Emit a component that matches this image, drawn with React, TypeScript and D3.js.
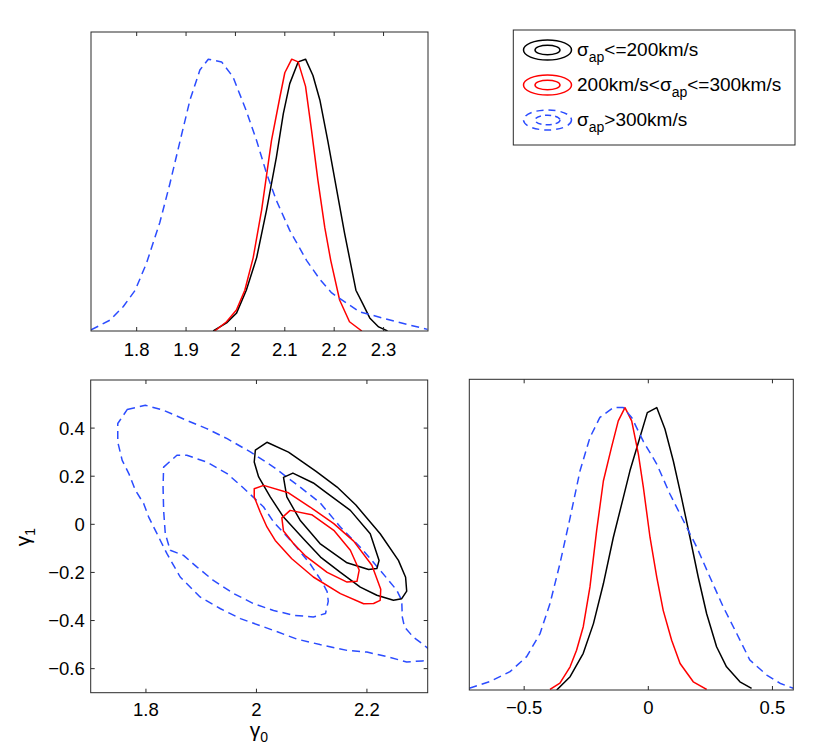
import * as React from 'react';
import * as d3 from 'd3';

type Pt = [number, number];

// marginal of gamma0 (top-left panel), peak normalised to 1
const g0Black: Pt[] = [
  [1.955, 0.0], [1.982, 0.03], [2.002, 0.065], [2.022, 0.15], [2.043, 0.27], [2.063, 0.445],
  [2.083, 0.64], [2.097, 0.80], [2.110, 0.91], [2.127, 0.99], [2.142, 1.0], [2.157, 0.94],
  [2.171, 0.85], [2.187, 0.70], [2.204, 0.53], [2.221, 0.36], [2.232, 0.26], [2.244, 0.15],
  [2.258, 0.10], [2.272, 0.048], [2.290, 0.015], [2.308, 0.0],
];
const g0Red: Pt[] = [
  [1.958, 0.0], [1.982, 0.034], [2.002, 0.077], [2.019, 0.15], [2.036, 0.27], [2.053, 0.445],
  [2.073, 0.70], [2.090, 0.86], [2.100, 0.95], [2.114, 1.0], [2.127, 0.99], [2.142, 0.90],
  [2.154, 0.74], [2.167, 0.555], [2.181, 0.38], [2.193, 0.26], [2.211, 0.114], [2.231, 0.034],
  [2.256, 0.0],
];
const g0Blue: Pt[] = [
  [1.7077, 0.004], [1.746, 0.04], [1.773, 0.09], [1.797, 0.15], [1.820, 0.25], [1.847, 0.40],
  [1.867, 0.54], [1.888, 0.70], [1.908, 0.85], [1.928, 0.96], [1.945, 1.0], [1.972, 0.99],
  [1.995, 0.935], [2.022, 0.81], [2.043, 0.70], [2.063, 0.58], [2.083, 0.48], [2.110, 0.37],
  [2.144, 0.26], [2.171, 0.19], [2.195, 0.14], [2.251, 0.071], [2.326, 0.034], [2.389, 0.006],
];

// marginal of gamma1 (bottom-right panel)
const g1Black: Pt[] = [
  [-0.369, 0.0], [-0.315, 0.047], [-0.262, 0.13], [-0.221, 0.235], [-0.181, 0.376], [-0.141, 0.54],
  [-0.101, 0.68], [-0.074, 0.776], [-0.034, 0.894], [-0.004, 0.982], [0.034, 1.0], [0.067, 0.924],
  [0.101, 0.81], [0.134, 0.68], [0.168, 0.54], [0.201, 0.40], [0.235, 0.27], [0.275, 0.153],
  [0.315, 0.082], [0.369, 0.029], [0.416, 0.006],
];
const g1Red: Pt[] = [
  [-0.396, 0.002], [-0.356, 0.024], [-0.315, 0.082], [-0.289, 0.141], [-0.262, 0.224], [-0.235, 0.365],
  [-0.208, 0.565], [-0.181, 0.74], [-0.148, 0.86], [-0.121, 0.953], [-0.094, 1.0], [-0.067, 0.953],
  [-0.040, 0.835], [-0.020, 0.718], [0.007, 0.54], [0.034, 0.40], [0.060, 0.282], [0.094, 0.176],
  [0.128, 0.094], [0.181, 0.029], [0.235, 0.002],
];
const g1Blue: Pt[] = [
  [-0.721, 0.006], [-0.638, 0.03], [-0.557, 0.065], [-0.49, 0.118], [-0.436, 0.20], [-0.396, 0.306],
  [-0.356, 0.447], [-0.315, 0.61], [-0.275, 0.776], [-0.235, 0.894], [-0.195, 0.965], [-0.141, 1.0],
  [-0.101, 1.0], [-0.067, 0.965], [-0.020, 0.88], [0.034, 0.80], [0.087, 0.694], [0.141, 0.60],
  [0.195, 0.506], [0.248, 0.40], [0.302, 0.294], [0.356, 0.20], [0.409, 0.106], [0.477, 0.053],
  [0.530, 0.024], [0.584, 0.006],
];

// joint contours (gamma0, gamma1)
const blackOuter: Pt[] = [
  [1.998, 0.308], [2.019, 0.341], [2.058, 0.300], [2.108, 0.220], [2.146, 0.155], [2.180, 0.080],
  [2.224, -0.039], [2.257, -0.150], [2.270, -0.220], [2.272, -0.278], [2.263, -0.309], [2.248, -0.316],
  [2.218, -0.295], [2.188, -0.261], [2.152, -0.200], [2.116, -0.136], [2.085, -0.060], [2.049, 0.030],
  [2.025, 0.114], [2.004, 0.197], [1.996, 0.259],
];
const blackInner: Pt[] = [
  [2.049, 0.195], [2.066, 0.213], [2.103, 0.172], [2.121, 0.141], [2.170, 0.058], [2.206, -0.039],
  [2.222, -0.150], [2.218, -0.184], [2.203, -0.188], [2.164, -0.160], [2.115, -0.080], [2.079, 0.017],
  [2.055, 0.114],
];
const redOuter: Pt[] = [
  [1.996, 0.148], [2.013, 0.162], [2.058, 0.131], [2.097, 0.072], [2.140, 0.003], [2.176, -0.070],
  [2.209, -0.170], [2.225, -0.270], [2.224, -0.316], [2.212, -0.329], [2.194, -0.330], [2.152, -0.288],
  [2.103, -0.219], [2.064, -0.143], [2.034, -0.067], [2.019, -0.011], [2.007, 0.050], [1.996, 0.114],
];
const redInner: Pt[] = [
  [2.046, 0.027], [2.061, 0.058], [2.100, 0.040], [2.140, -0.025], [2.170, -0.108], [2.186, -0.190],
  [2.182, -0.237], [2.164, -0.240], [2.128, -0.200], [2.088, -0.130], [2.067, -0.080], [2.049, -0.028],
];
const blueOuter: Pt[] = [
  [1.766, 0.477], [1.799, 0.495], [1.832, 0.474], [1.874, 0.432], [1.910, 0.398], [1.947, 0.356],
  [1.989, 0.301], [2.031, 0.238], [2.079, 0.155], [2.115, 0.09], [2.152, -0.011], [2.190, -0.10],
  [2.224, -0.191], [2.254, -0.274], [2.263, -0.316], [2.264, -0.385], [2.268, -0.427], [2.284, -0.469],
  [2.300, -0.496], [2.318, -0.53], [2.318, -0.565], [2.300, -0.568], [2.272, -0.572], [2.236, -0.55],
  [2.200, -0.531], [2.164, -0.524], [2.115, -0.500], [2.073, -0.477], [2.031, -0.441], [1.971, -0.392],
  [1.935, -0.351], [1.898, -0.302], [1.862, -0.219], [1.838, -0.122], [1.820, -0.039], [1.805, 0.030],
  [1.796, 0.086], [1.781, 0.141], [1.769, 0.211], [1.757, 0.266], [1.749, 0.342], [1.749, 0.419],
];
const blueInner: Pt[] = [
  [1.832, 0.238], [1.856, 0.287], [1.874, 0.287], [1.910, 0.259], [1.947, 0.211], [1.977, 0.150],
  [2.013, 0.072], [2.031, 0.010], [2.067, -0.080], [2.097, -0.164], [2.119, -0.240], [2.128, -0.280],
  [2.130, -0.320], [2.125, -0.371], [2.103, -0.385], [2.067, -0.378], [2.031, -0.358], [1.995, -0.330],
  [1.959, -0.288], [1.922, -0.233], [1.892, -0.177], [1.868, -0.129], [1.844, -0.108], [1.835, -0.039],
  [1.832, 0.058], [1.831, 0.155],
];

const topTicks = [1.8, 1.9, 2, 2.1, 2.2, 2.3];
const g0Ticks = [1.8, 2, 2.2];
const g1Ticks = [-0.6, -0.4, -0.2, 0, 0.2, 0.4];
const sideTicks = [-0.5, 0, 0.5];

const legendItems = [
  { lead: '', sub: 'ap', tail: '<=200km/s' },
  { lead: '200km/s<', sub: 'ap', tail: '<=300km/s' },
  { lead: '', sub: 'ap', tail: '>300km/s' },
];

const BLACK = '#000000';
const RED = '#ff0000';
const BLUE = '#2b4cff';
const DASH = '8,5';
const FONT = '"Liberation Sans", Arial, Helvetica, sans-serif';
const AXIS = '#2a2a2a';
const TICK = 4;

const fmt = (v: number) => {
  const s = String(Math.round(v * 10) / 10);
  return s.replace('-', '\u2212');
};

const series = [
  { color: BLACK, dash: undefined as string | undefined },
  { color: RED, dash: undefined as string | undefined },
  { color: BLUE, dash: DASH },
];

const App = () => {
  // top-left panel
  const tlX = d3.scaleLinear().domain([1.7075, 2.39]).range([91, 428]);
  const tlY = d3.scaleLinear().domain([0, 1.1]).range([331, 32]);
  // bottom-left panel
  const blX = d3.scaleLinear().domain([1.7, 2.31]).range([90.7, 427.7]);
  const blY = d3.scaleLinear().domain([-0.7, 0.6]).range([692.7, 380]);
  // bottom-right panel
  const brX = d3.scaleLinear().domain([-0.721, 0.584]).range([469.3, 793.3]);
  const brY = d3.scaleLinear().domain([0, 1.1]).range([690, 379.3]);

  const lineOf = (sx: d3.ScaleLinear<number, number>, sy: d3.ScaleLinear<number, number>) =>
    d3.line<Pt>().x(d => sx(d[0])).y(d => sy(d[1]));
  const closedOf = (sx: d3.ScaleLinear<number, number>, sy: d3.ScaleLinear<number, number>) =>
    d3.line<Pt>().x(d => sx(d[0])).y(d => sy(d[1])).curve(d3.curveLinearClosed);

  const tlLine = lineOf(tlX, tlY);
  const brLine = lineOf(brX, brY);
  const blClosed = closedOf(blX, blY);

  const frame = (sx: d3.ScaleLinear<number, number>, sy: d3.ScaleLinear<number, number>) => {
    const [x0, x1] = sx.range();
    const [y0, y1] = sy.range();
    return { x: x0, y: y1, w: x1 - x0, h: y0 - y1 };
  };
  const tl = frame(tlX, tlY);
  const bl = frame(blX, blY);
  const br = frame(brX, brY);

  const xTicks = (sx: d3.ScaleLinear<number, number>, f: { y: number; h: number }, vals: number[], labelY: number) =>
    vals.map(v => (
      <g key={v}>
        <line x1={sx(v)} x2={sx(v)} y1={f.y + f.h} y2={f.y + f.h - TICK} stroke={AXIS} />
        <line x1={sx(v)} x2={sx(v)} y1={f.y} y2={f.y + TICK} stroke={AXIS} />
        <text x={sx(v)} y={labelY} textAnchor="middle">{fmt(v)}</text>
      </g>
    ));

  const curves = (data: Pt[][], gen: d3.Line<Pt>, clip: string) => (
    <g clipPath={`url(#${clip})`}>
      {data.map((d, i) => (
        <path key={i} d={gen(d) || ''} fill="none" stroke={series[i].color}
          strokeWidth={1.5} strokeDasharray={series[i].dash} strokeLinejoin="round" />
      ))}
    </g>
  );

  const contours: { data: Pt[]; s: number }[] = [
    { data: blueOuter, s: 2 }, { data: blueInner, s: 2 },
    { data: blackOuter, s: 0 }, { data: blackInner, s: 0 },
    { data: redOuter, s: 1 }, { data: redInner, s: 1 },
  ];

  const legendRows = [56, 91, 126];

  return (
    <svg width={830} height={755} style={{ position: 'absolute', left: 0, top: 0, background: '#fff' }}
      fontFamily={FONT} fontSize={18.5}>
      <defs>
        {[['clipTL', tl], ['clipBL', bl], ['clipBR', br]].map(([id, f]: any) => (
          <clipPath id={id} key={id}><rect x={f.x} y={f.y} width={f.w} height={f.h} /></clipPath>
        ))}
      </defs>

      {/* top-left: gamma0 marginal */}
      {curves([g0Black, g0Red, g0Blue], tlLine, 'clipTL')}
      <rect x={tl.x} y={tl.y} width={tl.w} height={tl.h} fill="none" stroke={AXIS} />
      {xTicks(tlX, tl, topTicks, 356)}

      {/* bottom-left: joint contours */}
      <g clipPath="url(#clipBL)">
        {contours.map((c, i) => (
          <path key={i} d={blClosed(c.data) || ''} fill="none" stroke={series[c.s].color}
            strokeWidth={1.5} strokeDasharray={series[c.s].dash} strokeLinejoin="round" />
        ))}
      </g>
      <rect x={bl.x} y={bl.y} width={bl.w} height={bl.h} fill="none" stroke={AXIS} />
      {xTicks(blX, bl, g0Ticks, 716)}
      {g1Ticks.map(v => (
        <g key={v}>
          <line x1={bl.x} x2={bl.x + TICK} y1={blY(v)} y2={blY(v)} stroke={AXIS} />
          <line x1={bl.x + bl.w} x2={bl.x + bl.w - TICK} y1={blY(v)} y2={blY(v)} stroke={AXIS} />
          <text x={bl.x - 6} y={blY(v) + 6.5} textAnchor="end">{fmt(v)}</text>
        </g>
      ))}
      <text x={259} y={737} textAnchor="middle" fontSize={21}>
        γ<tspan fontSize={14} dy={5}>0</tspan>
      </text>
      <text transform="translate(30,537) rotate(-90)" textAnchor="middle" fontSize={21}>
        γ<tspan fontSize={14} dy={5}>1</tspan>
      </text>

      {/* bottom-right: gamma1 marginal */}
      {curves([g1Black, g1Red, g1Blue], brLine, 'clipBR')}
      <rect x={br.x} y={br.y} width={br.w} height={br.h} fill="none" stroke={AXIS} />
      {xTicks(brX, br, sideTicks, 714)}

      {/* legend */}
      <rect x={513.3} y={30} width={281.7} height={115} fill="#fff" stroke={AXIS} />
      {legendItems.map((it, i) => {
        const y = legendRows[i];
        const s = series[i];
        return (
          <g key={i}>
            <ellipse cx={547.5} cy={y - 6} rx={24} ry={10} fill="none" stroke={s.color}
              strokeWidth={1.5} strokeDasharray={s.dash ? '7,5' : undefined} />
            <ellipse cx={547.5} cy={y - 6} rx={12.5} ry={4.8} fill="none" stroke={s.color}
              strokeWidth={1.5} strokeDasharray={s.dash ? '6,4' : undefined} />
            <text x={577} y={y} fontSize={19}>
              {it.lead}σ<tspan fontSize={14} dy={6}>{it.sub}</tspan>
              <tspan dy={-6}>{it.tail}</tspan>
            </text>
          </g>
        );
      })}
    </svg>
  );
};

export default App;
